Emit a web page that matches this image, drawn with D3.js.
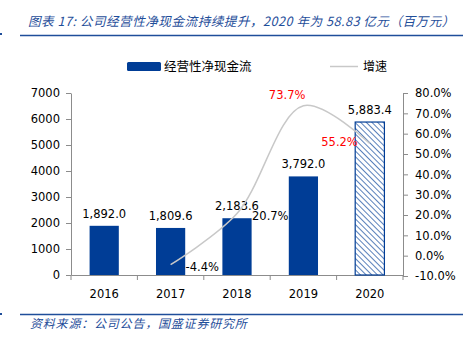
<!DOCTYPE html>
<html><head><meta charset="utf-8">
<script src="https://cdn.jsdelivr.net/npm/d3@7/dist/d3.min.js"></script>
<style>
html,body{margin:0;padding:0;background:#fff;}
svg{display:block;}
</style></head>
<body>
<svg id="c" width="475" height="342"></svg>
<script>
const years = ["2016","2017","2018","2019","2020"];
const cashFlow = [1892.0, 1809.6, 2183.6, 3792.0, 5883.4];
const growth = [null, -4.4, 20.7, 73.7, 55.2];
const leftTicks = [0,1000,2000,3000,4000,5000,6000,7000];
const rightTicks = [-10,0,10,20,30,40,50,60,70,80];
const growthLabelColors = [null, "#000", "#000", "#FF0000", "#FF0000"];

const svg = d3.select("#c");
const blue = "#003D96";
const titleBlue = "#1F4E9A";
const numFont = "'DejaVu Sans', sans-serif";
const cjkFont = "'Noto Sans CJK SC', sans-serif";

// pattern
const defs = svg.append("defs");
const pat = defs.append("pattern").attr("id","hatch").attr("patternUnits","userSpaceOnUse")
  .attr("width",4).attr("height",4).attr("patternTransform","rotate(-45)");
pat.append("rect").attr("width",4).attr("height",4).attr("fill","#fff");
pat.append("line").attr("x1",0).attr("y1",0).attr("x2",0).attr("y2",4)
  .attr("stroke", blue).attr("stroke-width",1.3);

// title
svg.append("text").attr("x",28).attr("y",26).attr("font-family",cjkFont)
  .attr("font-size",12.6).attr("font-style","italic").attr("fill",titleBlue)
  .attr("letter-spacing",0.5)
  .text("图表 17: 公司经营性净现金流持续提升，2020 年为 58.83 亿元（百万元）");
svg.append("line").attr("x1",20).attr("x2",463).attr("y1",35.5).attr("y2",35.5)
  .attr("stroke",titleBlue).attr("stroke-width",1.5);
svg.append("rect").attr("x",0).attr("y",33).attr("width",2).attr("height",2).attr("fill",titleBlue);

// bottom
svg.append("line").attr("x1",20).attr("x2",463).attr("y1",314.5).attr("y2",314.5)
  .attr("stroke",titleBlue).attr("stroke-width",1.5);
svg.append("rect").attr("x",0).attr("y",313).attr("width",2).attr("height",2).attr("fill",titleBlue);
svg.append("text").attr("x",30).attr("y",328).attr("font-family",cjkFont)
  .attr("font-size",12).attr("font-style","italic").attr("fill",titleBlue)
  .attr("letter-spacing",0.8)
  .text("资料来源：公司公告，国盛证券研究所");

// scales
const x0 = 71, x1 = 403, yTop = 93, yBot = 275;
const x = d3.scaleBand().domain(years).range([x0,x1]).padding(0);
const yL = d3.scaleLinear().domain([0,7000]).range([yBot,yTop]);
const yR = d3.scaleLinear().domain([-10,80]).range([yBot+1,yTop]);

const axisColor = "#8C8C8C";
const gL = svg.append("g").attr("transform",`translate(${x0},0)`)
  .call(d3.axisLeft(yL).tickValues(leftTicks).tickFormat(d3.format("d")).tickSize(5).tickSizeOuter(0));
const gR = svg.append("g").attr("transform",`translate(${x1},0)`)
  .call(d3.axisRight(yR).tickValues(rightTicks).tickFormat(d=>d.toFixed(1)+"%").tickSize(5).tickSizeOuter(0));
const gB = svg.append("g").attr("transform",`translate(0,${yBot})`)
  .call(d3.axisBottom(x).tickSize(0).tickSizeOuter(0));
[gL,gR,gB].forEach(g=>{
  g.selectAll("path").attr("stroke",axisColor);
  g.selectAll("line").attr("stroke",axisColor);
  g.selectAll("text").attr("font-family",numFont).attr("font-size",11.5).attr("fill","#000");
});
gL.selectAll("text").attr("x",-11);
gR.selectAll("text").attr("x",12);
gB.selectAll("text").attr("dy","0").attr("y",23);
svg.append("g").selectAll("line").data(d3.range(years.length+1)).join("line")
  .attr("x1",i=>x0+i*x.bandwidth()).attr("x2",i=>x0+i*x.bandwidth())
  .attr("y1",yBot).attr("y2",yBot+5).attr("stroke",axisColor);

// bars
const bw = x.bandwidth()*0.44;
svg.append("g").selectAll("rect").data(cashFlow).join("rect")
  .attr("x",(d,i)=>x(years[i])+x.bandwidth()/2-bw/2)
  .attr("y",d=>yL(d)).attr("width",bw).attr("height",d=>yBot-yL(d))
  .attr("fill",(d,i)=>i===years.length-1?"url(#hatch)":blue)
  .attr("stroke",(d,i)=>i===years.length-1?blue:"none").attr("stroke-width",1.2);
svg.append("g").selectAll("text").data(cashFlow).join("text")
  .attr("x",(d,i)=>x(years[i])+x.bandwidth()/2)
  .attr("y",d=>yL(d)-8).attr("text-anchor","middle")
  .attr("font-family",numFont).attr("font-size",11.5).attr("fill","#000")
  .text(d=>d3.format(",.1f")(d));

// growth line
const gpts = growth.map((g,i)=>({v:g,i:i})).filter(p=>p.v!=null);
const cx = p=>x(years[p.i])+x.bandwidth()/2;
svg.append("path").attr("d", d3.line().x(cx).y(p=>yR(p.v)).curve(d3.curveCatmullRom.alpha(0.5))(gpts))
  .attr("fill","none").attr("stroke","#C8C8C8").attr("stroke-width",1.5);

const labelOffsets = [null,[15,6,"start"],[15,6,"start"],[2,-7,"end"],[-12,3,"end"]];
svg.append("g").selectAll("text").data(gpts).join("text")
  .attr("x",p=>cx(p)+labelOffsets[p.i][0])
  .attr("y",p=>yR(p.v)+labelOffsets[p.i][1])
  .attr("text-anchor",p=>labelOffsets[p.i][2])
  .attr("font-family",numFont).attr("font-size",11.5)
  .attr("fill",p=>growthLabelColors[p.i])
  .text(p=>p.v.toFixed(1)+"%");

// legend
svg.append("rect").attr("x",127).attr("y",62).attr("width",34).attr("height",9).attr("rx",1.5).attr("fill",blue);
svg.append("text").attr("x",164).attr("y",71).attr("font-family",cjkFont).attr("font-size",12.5).attr("fill","#000").text("经营性净现金流");
svg.append("line").attr("x1",330).attr("x2",358).attr("y1",66.5).attr("y2",66.5).attr("stroke","#C8C8C8").attr("stroke-width",1.5);
svg.append("text").attr("x",363).attr("y",71).attr("font-family",cjkFont).attr("font-size",12).attr("fill","#000").text("增速");
</script>
</body></html>
